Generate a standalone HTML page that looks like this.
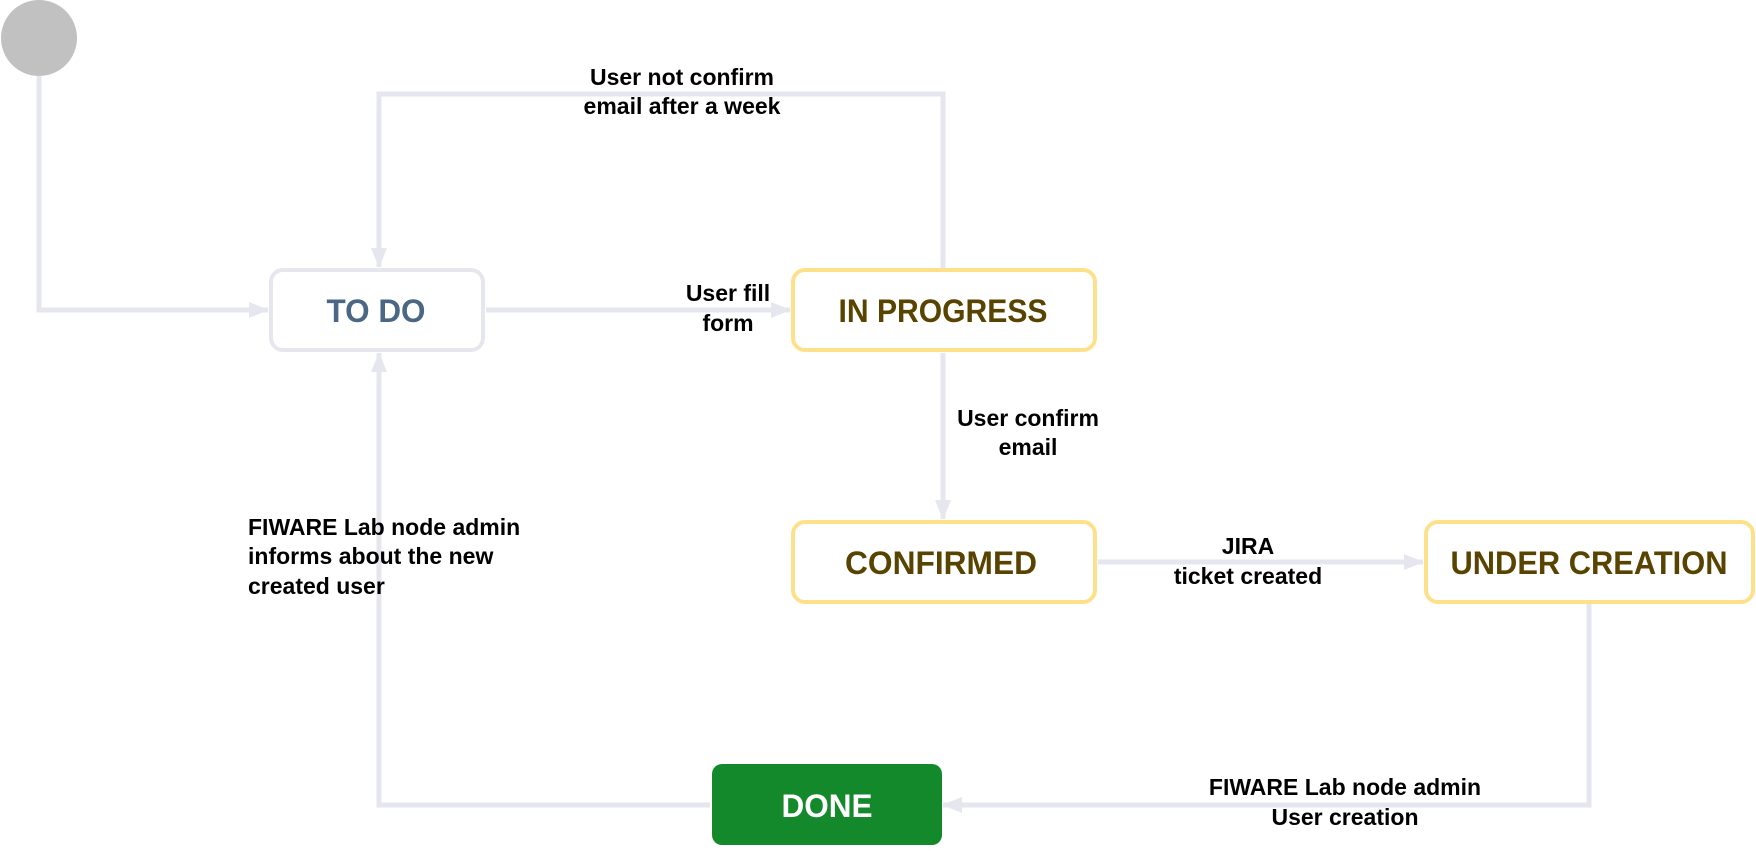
<!DOCTYPE html>
<html><head><meta charset="utf-8"><style>html,body{margin:0;padding:0;background:#fff}svg{display:block}</style></head>
<body>
<svg width="1756" height="851" viewBox="0 0 1756 851" xmlns="http://www.w3.org/2000/svg">
<defs>
<marker id="a" markerWidth="20" markerHeight="16" refX="19" refY="8" orient="auto" markerUnits="userSpaceOnUse">
<path d="M0,0 L20,8 L0,16 Z" fill="#e6e7ee"/>
</marker>
</defs>
<g fill="none" stroke="#e6e7ee" stroke-width="5">
<polyline points="39,76 39,310 268,310" marker-end="url(#a)"/>
<polyline points="943,269 943,94 379,94 379,267" marker-end="url(#a)"/>
<line x1="486" y1="310" x2="790" y2="310" marker-end="url(#a)"/>
<line x1="943" y1="353" x2="943" y2="519" marker-end="url(#a)"/>
<line x1="1098" y1="562" x2="1423" y2="562" marker-end="url(#a)"/>
<polyline points="1589,604 1589,805 943,805" marker-end="url(#a)"/>
<polyline points="710,805 379,805 379,353" marker-end="url(#a)"/>
</g>
<circle cx="39" cy="38" r="38" fill="#c1c1c1"/>
<rect x="271" y="270" width="212" height="80" rx="12" fill="#fff" stroke="#e6e7ee" stroke-width="4"/>
<rect x="793" y="270" width="302" height="80" rx="12" fill="#fff" stroke="#ffe08a" stroke-width="4"/>
<rect x="793" y="522" width="302" height="80" rx="12" fill="#fff" stroke="#ffe08a" stroke-width="4"/>
<rect x="1426" y="522" width="327" height="80" rx="12" fill="#fff" stroke="#ffe08a" stroke-width="4"/>
<rect x="712" y="764" width="230" height="81" rx="10" fill="#14892c"/>
<g font-family="Liberation Sans, Arial, sans-serif" font-weight="bold" font-size="32" text-anchor="middle">
<text x="376" y="322" fill="#4a6785" textLength="99" lengthAdjust="spacingAndGlyphs">TO DO</text>
<text x="943" y="322" fill="#594300" textLength="209" lengthAdjust="spacingAndGlyphs">IN PROGRESS</text>
<text x="941" y="574" fill="#594300" textLength="192" lengthAdjust="spacingAndGlyphs">CONFIRMED</text>
<text x="1589" y="574" fill="#594300" textLength="277" lengthAdjust="spacingAndGlyphs">UNDER CREATION</text>
<text x="827" y="817" fill="#fff" textLength="91" lengthAdjust="spacingAndGlyphs">DONE</text>
</g>
<g font-family="Liberation Sans, Arial, sans-serif" font-weight="bold" font-size="23" fill="#000" text-anchor="middle">
<text x="682" y="85">User not confirm</text>
<text x="682" y="114">email after a week</text>
<text x="728" y="301">User fill</text>
<text x="728" y="331">form</text>
<text x="1028" y="426">User confirm</text>
<text x="1028" y="455">email</text>
<text x="1248" y="554">JIRA</text>
<text x="1248" y="584">ticket created</text>
<text x="1345" y="795">FIWARE Lab node admin</text>
<text x="1345" y="825">User creation</text>
<text x="248" y="535" text-anchor="start">FIWARE Lab node admin</text>
<text x="248" y="564" text-anchor="start">informs about the new</text>
<text x="248" y="594" text-anchor="start">created user</text>
</g>
</svg>
</body></html>
